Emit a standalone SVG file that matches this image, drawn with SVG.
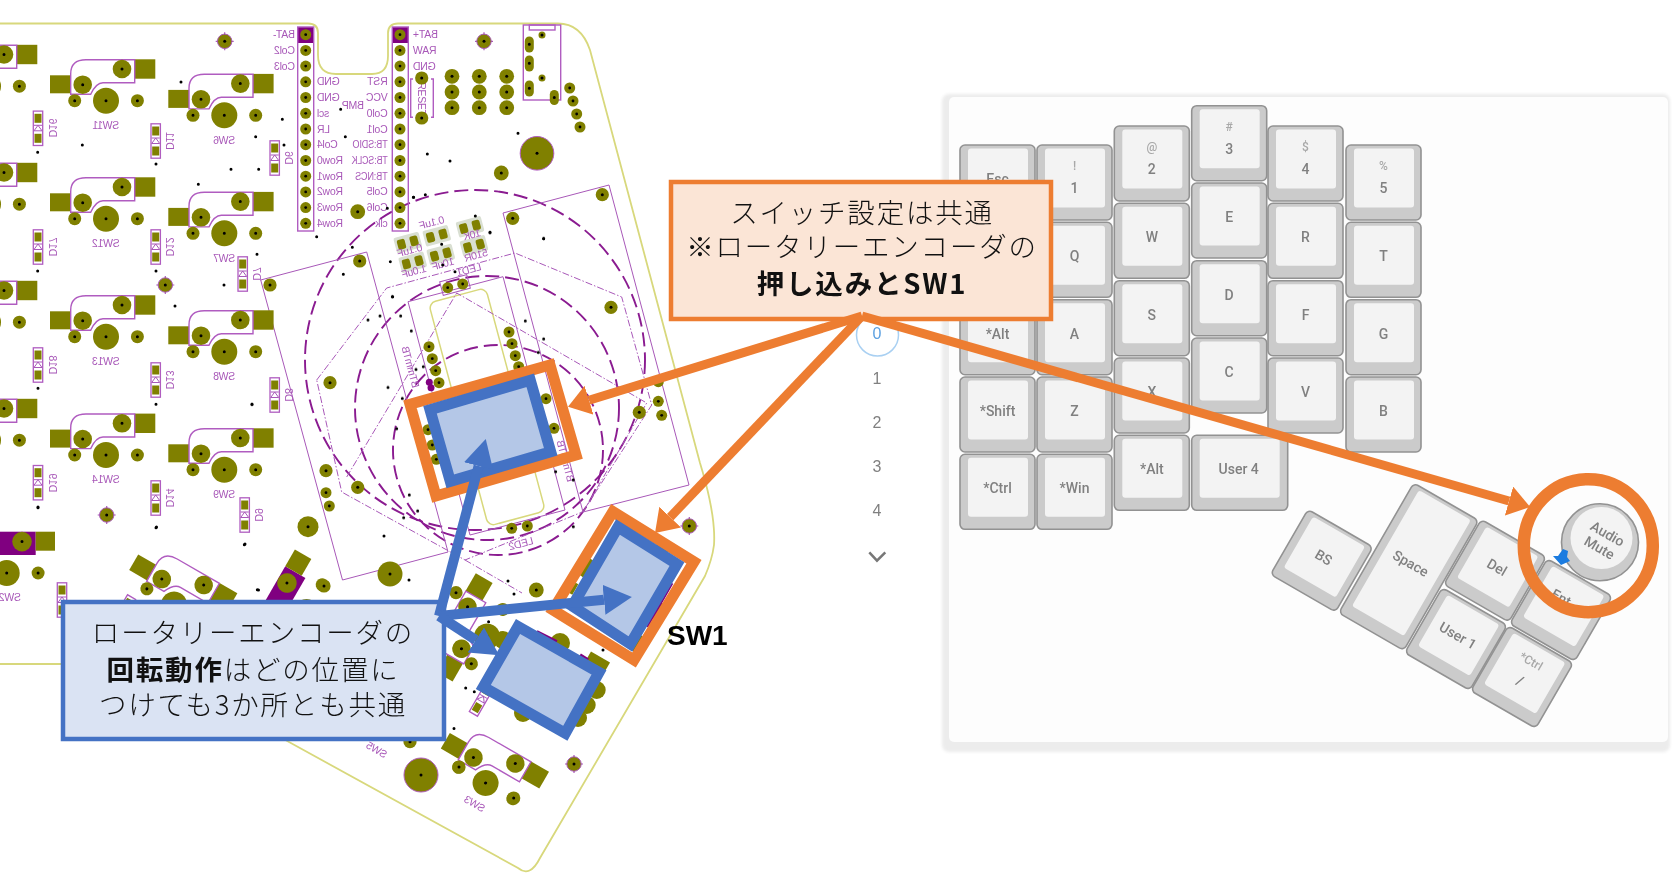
<svg xmlns="http://www.w3.org/2000/svg" width="1674" height="885" viewBox="0 0 1674 885">
<style>
text{font-family:"Liberation Sans",sans-serif}
.ol{fill:#808000}
.pu{fill:none;stroke:#b05cc0;stroke-width:1.4}
.th{fill:none;stroke:#a858b8;stroke-width:1}
.da{fill:none;stroke:#8a1a90;stroke-width:1.9;stroke-dasharray:14 6}
.dd{fill:none;stroke:#a858b8;stroke-width:1;stroke-dasharray:7 2 1.5 2}
.lb{fill:#a858b8;font-size:10.5px;letter-spacing:-.3px;text-anchor:middle}
.ls{fill:#a858b8;font-size:10.5px;letter-spacing:-.2px;text-anchor:start}
.le{fill:#a858b8;font-size:10.5px;letter-spacing:-.2px;text-anchor:end}
.sm{fill:#d9dfd2}
.key-o{fill:#cbcbcb;stroke:#929292;stroke-width:1.6}
.key-i{fill:#f3f3f3}
.kt{font-family:Roboto,"Liberation Sans",sans-serif;font-weight:500;font-size:14px;fill:#808080;text-anchor:middle}
.ks{font-size:12px;fill:#a8a8a8}
.call{font-family:"Noto Sans CJK JP",sans-serif;font-size:27.5px;font-weight:300;letter-spacing:1.8px;fill:#111;text-anchor:middle}
.call .b{font-weight:700}
.arr-o{stroke:#ed7d31;stroke-width:9;fill:none}
.arr-b{stroke:#4472c4;stroke-width:10;fill:none}
.bx-o{fill:none;stroke:#ed7d31;stroke-width:11;stroke-linejoin:miter}
.bx-b{fill:#b4c7e7;stroke:#4472c4;stroke-width:11;stroke-linejoin:miter}
</style>
<defs>
<filter id="soft" filterUnits="userSpaceOnUse" x="0" y="0" width="1674" height="885"><feGaussianBlur stdDeviation="0.5"/></filter>
<filter id="soft2" filterUnits="userSpaceOnUse" x="0" y="0" width="1674" height="885"><feGaussianBlur stdDeviation="1.6"/></filter>
<g id="p5"><circle r="5.5" class="ol"/><circle r="1.4"/></g>
<g id="p6"><circle r="6.6" class="ol"/><circle r="1.5"/></g>
<g id="p7"><circle r="7.4" class="ol"/><circle r="1.5"/></g>
<g id="scr"><path d="M-9 0H9M0-9V9" stroke="#a858b8" stroke-width="1.2"/><circle r="7.2" class="ol" stroke="#a858b8"/><circle r="1.5"/></g>
<g id="sw">
<rect x="-56" y="-25.4" width="20.7" height="18" class="ol"/>
<rect x="28.7" y="-41.4" width="20.6" height="19.4" class="ol"/>
<path class="pu" d="M-35.3-6.4V-27Q-35.3-41-20-41H28.7V-18H-3Q-10-18-15.3-6.4Z"/>
<circle r="13" class="ol"/><circle cx="-23.3" cy="-16" r="9.3" class="ol"/><circle cx="16" cy="-31.7" r="9.3" class="ol"/>
<circle cx="-31.3" r="6.5" class="ol"/><circle cx="31.4" r="6.5" class="ol"/>
<path d="M0 0h0M-23.3-16h0M16-31.7h0M-31.3 0h0M31.4 0h0" stroke="#000" stroke-width="3" stroke-linecap="round"/>
</g>
<g id="swp">
<rect x="-16" y="-41.3" width="45" height="23.3" fill="#800080"/>
<rect x="29" y="-41.3" width="19.3" height="19" class="ol"/>
<circle cx="15.3" cy="-31.4" r="9.8" class="ol"/>
<circle r="13" class="ol"/><circle cx="31.4" r="6.5" class="ol"/>
<path d="M0 0h0M15.3-31.4h0M31.4 0h0" stroke="#000" stroke-width="3" stroke-linecap="round"/>
</g>
<g id="d">
<rect x="-4.7" y="-17.2" width="9.4" height="34.4" fill="#fff" stroke="#b05cc0" stroke-width="1.3"/>
<rect x="-3.5" y="-14.5" width="7" height="9" class="ol"/><rect x="-3.5" y="5.5" width="7" height="9" class="ol"/>
<path d="M-4 2.5H4L0-3ZM-4-3H4" fill="none" stroke="#a858b8"/>
</g>
<g id="smd"><rect x="-13" y="-8" width="26" height="16" rx="2" class="sm"/><rect x="-10.5" y="-5" width="8" height="10" rx="2" class="ol"/><rect x="2.5" y="-5" width="8" height="10" rx="2" class="ol"/></g>
<g id="key"><rect width="75" height="75" rx="5" class="key-o"/><rect x="8" y="3.5" width="60" height="59" rx="3" class="key-i"/></g>
<g id="keyr"><rect x="-37.5" y="-37.5" width="75" height="75" rx="5" class="key-o"/><rect x="-29.5" y="-34" width="60" height="59" rx="3" class="key-i"/></g>
<marker id="ho" markerUnits="userSpaceOnUse" markerWidth="26" markerHeight="32" refX="0" refY="15" orient="auto"><path d="M0 0L22 15L0 30Z" fill="#ed7d31"/></marker>
<marker id="hb" markerUnits="userSpaceOnUse" markerWidth="32" markerHeight="32" refX="0" refY="15" orient="auto"><path d="M0 0L28 15L0 30Z" fill="#4472c4"/></marker>
</defs>
<rect width="1674" height="885" fill="#fff"/>

<g id="pcb" filter="url(#soft)">
<path d="M0 23.5H308Q318 23.5 318 33V55Q318 74 336 74H372Q388 74 388 56V33Q388 23.5 398 23.5H558Q581 23.5 590 50L700 463Q716 515 714 545Q712 560 705 576L540 858Q530 878 518 868L289 742L150 664H0" fill="none" stroke="#d8d87c" stroke-width="1.8"/>

<g id="encoder-outline">
<circle cx="475" cy="360" r="170" class="da"/>
<circle cx="487" cy="408" r="132" class="da"/>
<circle cx="498" cy="450" r="105" class="da"/>
<path class="th" d="M260.7 280L366.7 252L448 552L342.5 580Z"/>
<path class="th" d="M503 213L609 185L689 485L583 512Z"/>
<path class="th" d="M408 301.700L503 276.700L565 510L470 535Z"/>
<rect x="457.500" y="291.500" width="59" height="231" rx="7" transform="rotate(-15 487 407)" fill="none" stroke="#d8d87c" stroke-width="1.5"/>
<path class="dd" d="M316.700 380L386.700 288L515 253L621.700 297L651.700 405L583 511.700L465 560L341.700 492Z"/>
<path class="dd" d="M346.700 477L456.700 293L646.700 403L583 512M465 560L522 593"/>
</g>

<use href="#sw" x="-12" y="86.200"/><use href="#sw" x="-12" y="204.200"/><use href="#sw" x="-12" y="322.200"/><use href="#sw" x="-12" y="440.200"/>
<use href="#sw" x="106" y="100.700"/><use href="#sw" x="106" y="218.700"/><use href="#sw" x="106" y="336.700"/><use href="#sw" x="106" y="455"/>
<use href="#sw" x="224.300" y="115.300"/><use href="#sw" x="224.300" y="233.300"/><use href="#sw" x="224.300" y="351.700"/><use href="#sw" x="224.300" y="469.700"/>
<use href="#swp" x="6.700" y="573"/>
<use href="#swp" transform="translate(306.500 612) rotate(-60)"/>
<use href="#sw" transform="translate(174 604.500) rotate(30)"/>
<use href="#sw" transform="translate(487 636.600) rotate(-60)"/>
<use href="#sw" transform="translate(485.600 783) rotate(30)"/>

<g id="sw-labels">
<text class="lb" transform="matrix(-1 0 0 1 106 129)">SW11</text>
<text class="lb" transform="matrix(-1 0 0 1 106 247)">SW12</text>
<text class="lb" transform="matrix(-1 0 0 1 106 365)">SW13</text>
<text class="lb" transform="matrix(-1 0 0 1 106 483)">SW14</text>
<text class="lb" transform="matrix(-1 0 0 1 224.300 143.500)">SW6</text>
<text class="lb" transform="matrix(-1 0 0 1 224.300 262)">SW7</text>
<text class="lb" transform="matrix(-1 0 0 1 224.300 380)">SW8</text>
<text class="lb" transform="matrix(-1 0 0 1 224.300 498)">SW9</text>
<text class="lb" transform="matrix(-1 0 0 1 10 601)">SW2</text>
<text class="lb" transform="translate(473 807) rotate(30) scale(-1 1)">SW3</text>
<text class="lb" transform="translate(375 753) rotate(30) scale(-1 1)">SW5</text>
</g>

<g id="diodes">
<use href="#d" x="38" y="128.300"/><use href="#d" x="155.700" y="141"/><use href="#d" x="274.700" y="158"/>
<use href="#d" x="38" y="247"/><use href="#d" x="155.700" y="247"/><use href="#d" x="242.700" y="274"/>
<use href="#d" x="38" y="365"/><use href="#d" x="155.700" y="380"/><use href="#d" x="274.700" y="395"/>
<use href="#d" x="38" y="482.700"/><use href="#d" x="155.700" y="498"/><use href="#d" x="244.700" y="515"/>
<use href="#d" x="62" y="600"/><use href="#d" transform="translate(123 612) rotate(30)"/>
<use href="#d" transform="translate(482 699) rotate(30)"/>
<text class="lb" transform="translate(49 128) rotate(90) scale(-1 1)">D16</text>
<text class="lb" transform="translate(166 141) rotate(90) scale(-1 1)">D11</text>
<text class="lb" transform="translate(285 158) rotate(90) scale(-1 1)">D6</text>
<text class="lb" transform="translate(49 247) rotate(90) scale(-1 1)">D17</text>
<text class="lb" transform="translate(166 247) rotate(90) scale(-1 1)">D12</text>
<text class="lb" transform="translate(253 274) rotate(90) scale(-1 1)">D7</text>
<text class="lb" transform="translate(49 365) rotate(90) scale(-1 1)">D18</text>
<text class="lb" transform="translate(166 380) rotate(90) scale(-1 1)">D13</text>
<text class="lb" transform="translate(285 395) rotate(90) scale(-1 1)">D8</text>
<text class="lb" transform="translate(49 483) rotate(90) scale(-1 1)">D19</text>
<text class="lb" transform="translate(166 498) rotate(90) scale(-1 1)">D14</text>
<text class="lb" transform="translate(255 515) rotate(90) scale(-1 1)">D9</text>
</g>

<g id="mcu">
<rect x="297.700" y="27" width="16" height="16" fill="#800080"/><rect x="392.300" y="27" width="16" height="16" fill="#800080"/>
<rect x="297.700" y="27" width="16" height="204" class="pu"/><rect x="392.300" y="27" width="16" height="204" class="pu"/>
<use href="#p5" x="305.700" y="34.700"/><use href="#p5" x="305.700" y="50.400"/><use href="#p5" x="305.700" y="66.100"/><use href="#p5" x="305.700" y="81.800"/><use href="#p5" x="305.700" y="97.500"/><use href="#p5" x="305.700" y="113.300"/><use href="#p5" x="305.700" y="129"/><use href="#p5" x="305.700" y="144.700"/><use href="#p5" x="305.700" y="160.500"/><use href="#p5" x="305.700" y="176.200"/><use href="#p5" x="305.700" y="191.900"/><use href="#p5" x="305.700" y="207.600"/><use href="#p5" x="305.700" y="223.300"/>
<use href="#p5" x="400" y="34.700"/><use href="#p5" x="400" y="50.400"/><use href="#p5" x="400" y="66.100"/><use href="#p5" x="400" y="81.800"/><use href="#p5" x="400" y="97.500"/><use href="#p5" x="400" y="113.300"/><use href="#p5" x="400" y="129"/><use href="#p5" x="400" y="144.700"/><use href="#p5" x="400" y="160.500"/><use href="#p5" x="400" y="176.200"/><use href="#p5" x="400" y="191.900"/><use href="#p5" x="400" y="207.600"/><use href="#p5" x="400" y="223.300"/>
<text class="ls" transform="matrix(-1 0 0 1 295 38.200)">BAT-</text>
<text class="ls" transform="matrix(-1 0 0 1 295 54)">Col2</text>
<text class="ls" transform="matrix(-1 0 0 1 295 69.700)">Col3</text>
<text class="le" transform="matrix(-1 0 0 1 317 85.300)">GND</text>
<text class="le" transform="matrix(-1 0 0 1 317 101)">GND</text>
<text class="le" transform="matrix(-1 0 0 1 317 116.800)">scl</text>
<text class="le" transform="matrix(-1 0 0 1 317 132.500)">LR</text>
<text class="le" transform="matrix(-1 0 0 1 317 148.300)">Col4</text>
<text class="le" transform="matrix(-1 0 0 1 317 164)">Row0</text>
<text class="le" transform="matrix(-1 0 0 1 317 179.700)">Row1</text>
<text class="le" transform="matrix(-1 0 0 1 317 195.400)">Row2</text>
<text class="le" transform="matrix(-1 0 0 1 317 211.100)">Row3</text>
<text class="le" transform="matrix(-1 0 0 1 317 226.800)">Row4</text>
<text class="ls" transform="matrix(-1 0 0 1 387.700 85.300)">RST</text>
<text class="ls" transform="matrix(-1 0 0 1 387.700 101)">VCC</text>
<text class="ls" transform="matrix(-1 0 0 1 387.700 116.800)">Col0</text>
<text class="ls" transform="matrix(-1 0 0 1 387.700 132.500)">Col1</text>
<text class="ls" textLength="35" lengthAdjust="spacingAndGlyphs" transform="matrix(-1 0 0 1 387.700 148.300)">TB:SDIO</text>
<text class="ls" textLength="36" lengthAdjust="spacingAndGlyphs" transform="matrix(-1 0 0 1 387.700 164)">TB:SCLK</text>
<text class="ls" textLength="32.500" lengthAdjust="spacingAndGlyphs" transform="matrix(-1 0 0 1 387.700 179.700)">TB:NCS</text>
<text class="ls" transform="matrix(-1 0 0 1 387.700 195.400)">Col5</text>
<text class="ls" transform="matrix(-1 0 0 1 387.700 211.100)">Col6</text>
<text class="ls" transform="matrix(-1 0 0 1 387.700 226.800)">clk</text>
<text class="le" transform="matrix(-1 0 0 1 413 38.200)">BAT+</text>
<text class="le" transform="matrix(-1 0 0 1 413 54)">RAW</text>
<text class="le" transform="matrix(-1 0 0 1 413 69.700)">GND</text>
<text class="lb" transform="matrix(-1 0 0 1 353 109)">BMP</text>
</g>

<g id="reset">
<path class="pu" d="M413 79H410.700V117.300H413M431 79H433.300V117.300H431"/>
<text class="lb" transform="translate(418 99) rotate(90)">RESET</text>
<use href="#p6" x="421.700" y="78"/><use href="#p6" x="421.700" y="118"/>
</g>

<g id="pads">
<use href="#p7" x="452" y="76.300"/><use href="#p7" x="479.300" y="76.300"/><use href="#p7" x="506.700" y="76.300"/>
<use href="#p7" x="452" y="92"/><use href="#p7" x="479.300" y="92"/><use href="#p7" x="506.700" y="92"/>
<use href="#p7" x="452" y="107.700"/><use href="#p7" x="479.300" y="107.700"/><use href="#p7" x="506.700" y="107.700"/>
<rect x="523.300" y="25" width="37.400" height="75" class="pu"/><rect x="529.300" y="25" width="25.700" height="5" class="pu"/>
<rect x="524.800" y="36.500" width="9" height="16" rx="4.500" class="ol"/><rect x="524.800" y="55.500" width="9" height="16" rx="4.500" class="ol"/><rect x="524.800" y="80.500" width="9" height="16" rx="4.500" class="ol"/><rect x="549.800" y="90" width="9" height="15" rx="4.500" class="ol"/>
<circle cx="542" cy="35" r="3.500" class="ol"/><circle cx="542" cy="78" r="3.500" class="ol"/>
<path d="M529.300 44.300h0M529.300 63.300h0M529.300 88.300h0M554.300 97.500h0M542 35h0M542 78h0" stroke="#000" stroke-width="3" stroke-linecap="round"/>
<use href="#p5" x="569.700" y="88"/><use href="#p5" x="573" y="101"/><use href="#p5" x="576.700" y="114"/><use href="#p5" x="580" y="127"/>
<circle cx="537" cy="153.300" r="16.800" class="ol" stroke="#b05cc0"/><circle cx="537" cy="153.300" r="1.500"/>
<use href="#p7" x="501.300" y="173"/><use href="#p7" x="357.700" y="211.700"/>
<use href="#scr" x="224.700" y="41.300"/><use href="#scr" x="484" y="41.300"/><use href="#scr" x="165.300" y="285"/><use href="#scr" x="106.700" y="515"/><use href="#scr" x="574" y="764"/><use href="#scr" x="689.300" y="526"/>
<use href="#p6" x="270" y="285"/><use href="#p6" x="359.700" y="261"/><use href="#p6" x="512.700" y="218.300"/><use href="#p6" x="602.300" y="194.700"/><use href="#p6" x="611" y="307.300"/><use href="#p6" x="639.300" y="412.300"/><use href="#p6" x="330" y="382.700"/><use href="#p6" x="357.700" y="487.300"/>
<use href="#p6" x="326" y="470.700"/><use href="#p5" x="326" y="492.700"/><use href="#p5" x="329.300" y="506"/>
<circle cx="308" cy="526.700" r="10.500" class="ol"/><circle cx="308" cy="526.700" r="1.500"/>
<use href="#p5" x="429" y="346.700"/><use href="#p5" x="432.300" y="358.700"/><use href="#p5" x="435.700" y="370.700"/><use href="#p5" x="439" y="382.700"/>
<use href="#p5" x="509" y="332"/><use href="#p5" x="512" y="343.700"/><use href="#p5" x="515.300" y="355.700"/><use href="#p5" x="518.700" y="366.700"/><use href="#p5" x="546" y="398.700"/><use href="#p5" x="554" y="428.300"/>
<use href="#p5" x="428" y="429.700"/><use href="#p5" x="432.300" y="445"/><use href="#p5" x="436.300" y="459.300"/>
<circle cx="429.300" cy="382.300" r="3.500" fill="#800080"/><circle cx="431" cy="387.700" r="3.500" fill="#800080"/>
<use href="#p5" x="658.300" y="381.700"/><use href="#p5" x="658.300" y="401.300"/><use href="#p5" x="661.700" y="415.300"/>
<use href="#p5" x="511.700" y="528.300"/><use href="#p5" x="527.300" y="526"/>
<use href="#p7" x="536.300" y="590"/><use href="#p6" x="456" y="592.700"/><use href="#p6" x="324" y="586"/><use href="#p6" x="410" y="741.700"/>
<circle cx="390" cy="574" r="12.500" class="ol"/><circle cx="390" cy="574" r="1.500"/>
<circle cx="421" cy="775" r="17" class="ol" stroke="#b05cc0"/><circle cx="421" cy="775" r="1.500"/>
<use href="#p6" x="459" y="767"/><use href="#p6" x="513.700" y="798"/>
<circle cx="586.700" cy="568" r="10" class="ol"/><circle cx="656.700" cy="610" r="9" class="ol"/><circle cx="636.700" cy="643" r="9" class="ol"/><circle cx="660" cy="552" r="8" class="ol"/>
<rect x="566" y="581" width="10" height="12" transform="rotate(30 571 587)" class="ol"/>
<circle cx="503" cy="640" r="9" class="ol"/><circle cx="596.700" cy="690" r="9" class="ol"/><circle cx="586.700" cy="705" r="9" class="ol"/><circle cx="578" cy="718" r="9" class="ol"/><circle cx="523" cy="713" r="9" class="ol"/><circle cx="560" cy="643" r="10" class="ol"/>
<rect x="586" y="656" width="22" height="15" transform="rotate(30 597 663)" class="ol"/>
<path d="M536.700 631.700L556.700 641.700M580 655L588 660M646.700 626.700L671.700 583" stroke="#800080" stroke-width="3.500" fill="none"/>
</g>

<g id="smd-parts">
<use href="#smd" transform="translate(436.800 235.700) rotate(-15)"/>
<use href="#smd" transform="translate(470 226.800) rotate(-15)"/>
<use href="#smd" transform="translate(474 245.800) rotate(-15)"/>
<use href="#smd" transform="translate(407.800 242.600) rotate(-15)"/>
<use href="#smd" transform="translate(412.700 262.300) rotate(-15)"/>
<use href="#smd" transform="translate(440.800 254.500) rotate(-15)"/>
<text class="lb" transform="translate(432.700 226) rotate(-15) scale(-1 1)">0.1uF</text>
<text class="lb" transform="translate(473 238) rotate(-15) scale(-1 1)">10K</text>
<text class="lb" transform="translate(477 258.700) rotate(-15) scale(-1 1)">510R</text>
<text class="lb" transform="translate(410.700 253.700) rotate(-15) scale(-1 1)">0.1uF</text>
<text class="lb" transform="translate(415 274.700) rotate(-15) scale(-1 1)">1.0uF</text>
<text class="lb" transform="translate(444 267.300) rotate(-15) scale(-1 1)">10uF</text>
<text class="lb" transform="translate(470 273) rotate(-15) scale(-1 1)">LED1</text>
<text class="lb" transform="translate(522 547) rotate(-15) scale(-1 1)">LED2</text>
<rect x="441" y="278" width="28" height="14" transform="rotate(-15 455 285)" class="th"/>
<use href="#p5" x="447.700" y="287.700"/><use href="#p5" x="462.700" y="284"/>
<text class="lb" transform="translate(407 368) rotate(75) scale(-1 1)">BTmmTB</text>
<text class="lb" transform="translate(562 462) rotate(75) scale(-1 1)">BTmmTB</text>
</g>

<g id="drills">
<path stroke="#000" stroke-width="9" stroke-linecap="round" fill="none" transform="scale(.33333)" d="M543 246h0M847 358h0M767 410h0M852 435h0M693 508h0M776 508h0M595 553h0M247 435h0M113 457h0M468 492h0M950 710h0M1057 742h0M771 763h0M1240 592h0M1022 328h0M1036 410h0M1162 625h0M1171 785h0M1030 823h0M1178 890h0M113 813h0M468 813h0M672 855h0"/>
<path stroke="#000" stroke-width="9" stroke-linecap="round" fill="none" transform="translate(270 0) scale(.33333)" d="M472 462h0M540 483h0M744 400h0M821 716h0M660 697h0M616 648h0M431 592h0M466 584h0M515 733h0M555 815h0M518 795h0"/>
<path stroke="#000" stroke-width="9" stroke-linecap="round" fill="none" transform="translate(240 190) scale(.33333)" d="M911 145h0M856 393h0M911 447h0M895 487h0M457 320h0M384 390h0M420 378h0M482 378h0M514 423h0M444 592h0M528 538h0M550 530h0M36 643h0M470 716h0M487 625h0M508 915h0M533 963h0M491 983h0M947 845h0M1000 870h0M750 128h0M1000 1010h0"/>
<path stroke="#000" stroke-width="9" stroke-linecap="round" fill="none" transform="translate(0 280) scale(.33333)" d="M525 78h0M756 373h0M733 794h0M114 325h0M114 683h0M468 373h0M468 743h0M772 929h0"/>
<path stroke="#000" stroke-width="3" stroke-linecap="round" fill="none" d="M38 507h0M156.500 527h0M245 544h0M258.500 590h0M384 536h0M409 580h0M508 581h0M514 594h0M488.600 621.700h0M465.700 688h0M474.300 691.700h0M454 728.500h0M603 650h0"/>
</g>
</g>

<g id="panel">
<rect x="942" y="94" width="728" height="658" rx="7" fill="#ececec" filter="url(#soft2)"/>
<rect x="949" y="97" width="719" height="645" rx="5" fill="#fdfdfd" filter="url(#soft)"/>
</g>

<g id="layer-list" filter="url(#soft)">
<circle cx="877.500" cy="335" r="21" fill="#fff" stroke="#a9d0f2" stroke-width="1.5"/>
<g class="kt" style="font-size:16px">
<text x="877" y="339" style="fill:#5a9fe0">0</text>
<text x="877" y="383.500">1</text>
<text x="877" y="428">2</text>
<text x="877" y="471.500">3</text>
<text x="877" y="515.500">4</text>
</g>
<path d="M869.300 552.300L877 560.700L885.300 552.300" fill="none" stroke="#777" stroke-width="2.500"/>
</g>

<g id="keys-left" filter="url(#soft)">
<g id="k-esc" transform="translate(960 145)"><use href="#key"/><text class="kt" x="37.500" y="39">Esc</text></g>
<g id="k-tab" transform="translate(960 222.300)"><use href="#key"/></g>
<g id="k-lalt" transform="translate(960 299.700)"><use href="#key"/><text class="kt" x="37.500" y="39">*Alt</text></g>
<g id="k-shift" transform="translate(960 377)"><use href="#key"/><text class="kt" x="37.500" y="39">*Shift</text></g>
<g id="k-ctrl" transform="translate(960 454.300)"><use href="#key"/><text class="kt" x="37.500" y="39">*Ctrl</text></g>
<g id="k-1" transform="translate(1037 145)"><use href="#key"/><text class="kt ks" x="37.500" y="25">!</text><text class="kt" x="37.500" y="48">1</text></g>
<g id="k-q" transform="translate(1037 222.300)"><use href="#key"/><text class="kt" x="37.500" y="39">Q</text></g>
<g id="k-a" transform="translate(1037 299.700)"><use href="#key"/><text class="kt" x="37.500" y="39">A</text></g>
<g id="k-z" transform="translate(1037 377)"><use href="#key"/><text class="kt" x="37.500" y="39">Z</text></g>
<g id="k-win" transform="translate(1037 454.300)"><use href="#key"/><text class="kt" x="37.500" y="39">*Win</text></g>
<g id="k-2" transform="translate(1114.300 126)"><use href="#key"/><text class="kt ks" x="37.500" y="25">@</text><text class="kt" x="37.500" y="48">2</text></g>
<g id="k-w" transform="translate(1114.300 203.300)"><use href="#key"/><text class="kt" x="37.500" y="39">W</text></g>
<g id="k-s" transform="translate(1114.300 280.700)"><use href="#key"/><text class="kt" x="37.500" y="39">S</text></g>
<g id="k-x" transform="translate(1114.300 358)"><use href="#key"/><text class="kt" x="37.500" y="39">X</text></g>
<g id="k-alt" transform="translate(1114.300 435.300)"><use href="#key"/><text class="kt" x="37.500" y="39">*Alt</text></g>
<g id="k-3" transform="translate(1191.700 105.700)"><use href="#key"/><text class="kt ks" x="37.500" y="25">#</text><text class="kt" x="37.500" y="48">3</text></g>
<g id="k-e" transform="translate(1191.700 183)"><use href="#key"/><text class="kt" x="37.500" y="39">E</text></g>
<g id="k-d" transform="translate(1191.700 260.700)"><use href="#key"/><text class="kt" x="37.500" y="39">D</text></g>
<g id="k-c" transform="translate(1191.700 338)"><use href="#key"/><text class="kt" x="37.500" y="39">C</text></g>
<g id="k-user4" transform="translate(1191.700 435.300)"><rect width="96" height="75" rx="5" class="key-o"/><rect x="8" y="3.500" width="80" height="59" rx="3" class="key-i"/><text class="kt" x="47" y="39">User 4</text></g>
<g id="k-4" transform="translate(1268 126)"><use href="#key"/><text class="kt ks" x="37.500" y="25">$</text><text class="kt" x="37.500" y="48">4</text></g>
<g id="k-r" transform="translate(1268 203.300)"><use href="#key"/><text class="kt" x="37.500" y="39">R</text></g>
<g id="k-f" transform="translate(1268 280.700)"><use href="#key"/><text class="kt" x="37.500" y="39">F</text></g>
<g id="k-v" transform="translate(1268 358)"><use href="#key"/><text class="kt" x="37.500" y="39">V</text></g>
<g id="k-5" transform="translate(1346 145)"><use href="#key"/><text class="kt ks" x="37.500" y="25">%</text><text class="kt" x="37.500" y="48">5</text></g>
<g id="k-t" transform="translate(1346 222.300)"><use href="#key"/><text class="kt" x="37.500" y="39">T</text></g>
<g id="k-g" transform="translate(1346 299.700)"><use href="#key"/><text class="kt" x="37.500" y="39">G</text></g>
<g id="k-b" transform="translate(1346 377)"><use href="#key"/><text class="kt" x="37.500" y="39">B</text></g>
</g>

<g id="keys-thumb" filter="url(#soft)">
<g id="k-bs" transform="translate(1321.700 560.700) rotate(30)"><use href="#keyr"/><text class="kt" x="0" y="1">BS</text></g>
<g id="k-space" transform="translate(1408.700 566.700) rotate(30)"><rect x="-37.500" y="-75" width="75" height="150" rx="5" class="key-o"/><rect x="-29.500" y="-71.500" width="60" height="134" rx="3" class="key-i"/><text class="kt" x="0" y="1">Space</text></g>
<g id="k-del" transform="translate(1495 570.700) rotate(30)"><use href="#keyr"/><text class="kt" x="0" y="1">Del</text></g>
<g id="k-user1" transform="translate(1456 639) rotate(30)"><use href="#keyr"/><text class="kt" x="0" y="1">User 1</text></g>
<g id="k-ent" transform="translate(1561 610) rotate(30)"><use href="#keyr"/><text class="kt" x="-6" y="-6">Ent</text></g>
<g id="k-slash" transform="translate(1522 677) rotate(30)"><use href="#keyr"/><text class="kt ks" x="0" y="-14">*Ctrl</text><text class="kt" x="0" y="9">/</text></g>
<g id="k-knob"><circle cx="1600" cy="542.300" r="38.500" class="key-o"/><circle cx="1601.500" cy="538" r="31" class="key-i"/>
<text class="kt" transform="translate(1605 538) rotate(30)">Audio</text><text class="kt" transform="translate(1597 552) rotate(30)">Mute</text></g>
<path id="pin" d="M1563 549L1568 551L1567 557L1570 561L1561 565L1553 556L1558 556Z" fill="#1a7be0"/>
</g>

<g id="highlights">
<ellipse id="ring" cx="1588.300" cy="545.700" rx="64.500" ry="66.500" fill="none" stroke="#ed7d31" stroke-width="12.500"/>
<path id="hl-o1" class="bx-o" d="M410 404.300L550 365L576 455L436 496Z"/>
<path id="hl-b1" class="bx-b" d="M430 409.700L530.300 380.300L550.700 451.700L450.300 481.300Z"/>
<path id="hl-o2" class="bx-o" d="M613 511.700L694 561.700L634 660L553 610Z"/>
<path id="hl-b2" class="bx-b" d="M618 527L677 564L630.400 644L572.400 606Z"/>
<path id="hl-b3" class="bx-b" d="M518 626.500L599 672.400L565.300 733.300L483.300 687Z"/>
</g>

<g id="box-rotary">
<rect x="63" y="602" width="381" height="137" fill="#dae3f3" stroke="#4472c4" stroke-width="4.500"/>
<text class="call" x="253" y="643">ロータリーエンコーダの</text>
<text class="call" x="253" y="680"><tspan class="b">回転動作</tspan>はどの位置に</text>
<text class="call" x="253" y="715">つけても3か所とも共通</text>
</g>
<g id="box-switch">
<rect x="671" y="182" width="380" height="137" fill="#fbe5d6" stroke="#ed7d31" stroke-width="4.500"/>
<text class="call" x="862" y="223">スイッチ設定は共通</text>
<text class="call" x="862" y="257">※ロータリーエンコーダの</text>
<text class="call" x="862" y="294"><tspan class="b">押し込みとSW1</tspan></text>
</g>
<text id="lbl-sw1" x="667" y="645" font-size="28" font-weight="700" fill="#000">SW1</text>

<g id="connectors">
<path class="arr-o" marker-end="url(#ho)" d="M862 316L589 400.200"/>
<path class="arr-o" marker-end="url(#ho)" d="M862 316L670.200 517.100"/>
<path class="arr-o" marker-end="url(#ho)" d="M862 316L1509 501"/>
<path class="arr-b" marker-end="url(#hb)" d="M439 616L478.600 466"/>
<path class="arr-b" marker-end="url(#hb)" d="M439 616L604 599.700"/>
<path class="arr-b" marker-end="url(#hb)" d="M439 616L475.800 640"/>
</g>
</svg>
